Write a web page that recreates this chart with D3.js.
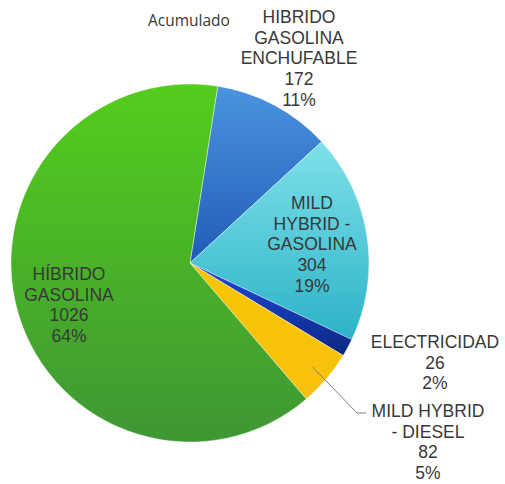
<!DOCTYPE html>
<meta charset="utf-8">
<script src="https://d3js.org/d3.v7.min.js"></script>
<style>
  body { margin: 0; background: #fff; }
</style>
<div id="chart"></div>
<script>

// data
var categories = ["HIBRIDO GASOLINA ENCHUFABLE", "MILD HYBRID - GASOLINA", "ELECTRICIDAD", "MILD HYBRID - DIESEL", "HÍBRIDO GASOLINA"];
var values = [172, 304, 26, 82, 1026];
var percents = ["11%", "19%", "2%", "5%", "64%"];
var labelLines = [
  ["HIBRIDO", "GASOLINA", "ENCHUFABLE"],
  ["MILD", "HYBRID -", "GASOLINA"],
  ["ELECTRICIDAD"],
  ["MILD HYBRID", "- DIESEL"],
  ["HÍBRIDO", "GASOLINA"]
];
var colorTop = ["#4b94de", "#7fe0e8", "#2049e0", "#f6c500", "#54cd1d"];
var colorBottom = ["#205cb8", "#2cb3c8", "#0b2880", "#f9c10e", "#3e9733"];

var width = 505, height = 484;
var cx = 190, cy = 263, radius = 179;

var svg = d3.select("#chart").append("svg")
  .attr("width", width)
  .attr("height", height);

// gradients, one per slice
var defs = svg.append("defs");
categories.forEach(function(c, i) {
  var g = defs.append("linearGradient")
    .attr("id", "grad" + i)
    .attr("x1", 0).attr("y1", 0).attr("x2", 0).attr("y2", 1);
  g.append("stop").attr("offset", "0%").attr("stop-color", colorTop[i]);
  g.append("stop").attr("offset", "100%").attr("stop-color", colorBottom[i]);
});

var startAngle = 8.9 * Math.PI / 180;

var pie = d3.pie()
  .sort(null)
  .startAngle(startAngle)
  .endAngle(startAngle + 2 * Math.PI)
  .value(function(d) { return d; });

var arc = d3.arc().innerRadius(0).outerRadius(radius);

var arcs = pie(values);

var g = svg.append("g").attr("transform", "translate(" + cx + "," + cy + ")");

g.selectAll("path")
  .data(arcs)
  .enter()
  .append("path")
    .attr("d", arc)
    .attr("fill", function(d, i) { return "url(#grad" + i + ")"; })
    .attr("stroke", "#fff")
    .attr("stroke-width", 0.4);

// label positions (center x, first baseline)
var labelPos = [
  [299, 23],
  [312, 209],
  [435, 348],
  [428, 417],
  [69, 280]
];
var lineH = 20.7;

var labels = svg.append("g")
  .attr("font-family", "'Liberation Sans', Arial, sans-serif")
  .attr("font-size", "17.5px")
  .attr("fill", "#383838")
  .attr("text-anchor", "middle");

arcs.forEach(function(d, i) {
  var lines = labelLines[i].concat([String(values[i]), percents[i]]);
  var t = labels.append("text");
  lines.forEach(function(s, j) {
    t.append("tspan")
      .attr("x", labelPos[i][0])
      .attr("y", labelPos[i][1] + j * lineH)
      .text(s);
  });
});

// leader line for MILD HYBRID - DIESEL
var dDiesel = arcs[3];
var mid = (dDiesel.startAngle + dDiesel.endAngle) / 2;
var px = cx + Math.sin(mid) * radius * 0.9;
var py = cy - Math.cos(mid) * radius * 0.9;
svg.append("path")
  .attr("d", "M" + px + "," + py + "L357,413L366,413")
  .attr("fill", "none")
  .attr("stroke", "#7f7f7f")
  .attr("stroke-width", 1);

// title
svg.append("text")
  .attr("x", 148)
  .attr("y", 26)
  .attr("font-family", "'Open Sans', sans-serif")
  .attr("font-size", "15.5px")
  .attr("fill", "#383838")
  .text("Acumulado");

</script>
